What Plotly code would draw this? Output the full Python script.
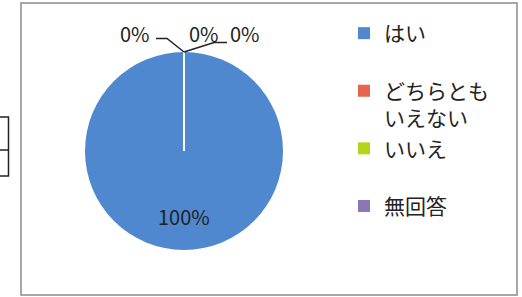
import plotly.graph_objects as go

categories = ["はい", "どちらとも<br>いえない", "いいえ", "無回答"]
values = [100, 0, 0, 0]
colors = ["#4F88CF", "#E8644A", "#B2D61C", "#8A78B6"]

W, H = 522, 297
total = sum(values)
pcts = [f"{v / total:.0%}" for v in values]

# pie geometry (pixels -> paper)
cx, cy, r = 184, 151, 99
dom_x = [(cx - r) / W, (cx + r) / W]
dom_y = [1 - (cy + r) / H, 1 - (cy - r) / H]

legend_labels = ["はい<br> ", categories[1], "いいえ<br> ", categories[3]]

fig = go.Figure(go.Pie(
    labels=legend_labels,
    values=values,
    marker=dict(colors=colors, line=dict(width=0)),
    sort=False, direction="clockwise", rotation=0,
    textinfo="none", hoverinfo="skip",
    domain=dict(x=dom_x, y=dom_y),
    showlegend=True,
))

font_num = "Noto Sans CJK JP"
ann = []
# 100% label inside slice
ann.append(dict(x=cx / W, y=1 - (cy + 0.66 * r) / H, xref="paper", yref="paper",
                xanchor="center", yanchor="middle",
                text=pcts[0], showarrow=False, font=dict(size=20, color="#222222", family=font_num)))
# 0% labels above the top
for txt, px in zip(pcts[1:], [135, 204, 245]):
    ann.append(dict(x=px / W, y=1 - 33 / H, xref="paper", yref="paper",
                    xanchor="center", yanchor="middle",
                    text=txt, showarrow=False, font=dict(size=20, color="#222222", family=font_num)))

def P(x, y):
    return f"{x / W},{1 - y / H}"

shapes = [
    # chart frame
    dict(type="rect", xref="paper", yref="paper", x0=21 / W, x1=517 / W, y0=1 - 295 / H, y1=1 - 3 / H,
         line=dict(color="#8A8A8A", width=1.5)),
    # white radial border of the slice
    dict(type="line", xref="paper", yref="paper", x0=cx / W, x1=cx / W, y0=1 - cy / H, y1=1 - (cy - r) / H,
         line=dict(color="white", width=2)),
    # leader lines
    dict(type="path", xref="paper", yref="paper",
         path=f"M{P(156, 38.5)} L{P(167, 38.5)} L{P(cx, cy - r)}", line=dict(color="#222222", width=1.5)),
    dict(type="path", xref="paper", yref="paper",
         path=f"M{P(cx, cy - r)} L{P(214, 42.5)} L{P(227, 42.5)}", line=dict(color="#222222", width=1.5)),
    # partial table at left edge
    dict(type="rect", xref="paper", yref="paper", x0=-5 / W, x1=8.5 / W, y0=1 - 176 / H, y1=1 - 117 / H,
         line=dict(color="#222222", width=1.5)),
    dict(type="line", xref="paper", yref="paper", x0=-5 / W, x1=8.5 / W, y0=1 - 150 / H, y1=1 - 150 / H,
         line=dict(color="#222222", width=1.5)),
]

fig.update_layout(
    width=W, height=H,
    margin=dict(l=0, r=0, t=0, b=0),
    paper_bgcolor="white",
    font=dict(family="Noto Sans CJK JP", color="#222222"),
    legend=dict(x=344 / W, y=1 - 13 / H, xanchor="left", yanchor="top",
                font=dict(size=21, family="Noto Sans CJK JP", color="#222222"),
                valign="top", bgcolor="rgba(0,0,0,0)", traceorder="normal"),
    annotations=ann,
    shapes=shapes,
)

fig.write_html("out.html", config={"displayModeBar": False},
               post_script="document.body.style.margin='0';document.body.style.overflow='hidden';")
